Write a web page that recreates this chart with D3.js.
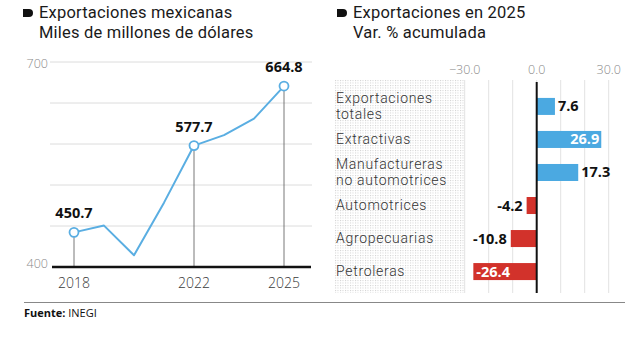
<!DOCTYPE html>
<html>
<head>
<meta charset="utf-8">
<script src="https://cdn.jsdelivr.net/npm/d3@7"></script>
<style>
  body { margin: 0; background: #fff; }
  svg { display: block; font-family: "Open Sans", sans-serif; }
  .title { font-family: Roboto, sans-serif; font-size: 16.5px; fill: #1a1a1a; letter-spacing: 0.2px; }
  .tick-label { font-size: 12.5px; fill: #8a8a8a; font-weight: 300; }
  .year { font-size: 14px; fill: #3a3a3a; font-weight: 300; }
  .value { font-size: 14.5px; font-weight: 700; fill: #111; }
  .cat { font-family: Roboto, sans-serif; font-size: 14px; fill: #333; font-weight: 300; letter-spacing: 0.7px; }
  .source { font-size: 11px; fill: #111; }
</style>
</head>
<body>
<svg id="chart" width="630" height="342"></svg>
<script>
// Exportaciones mexicanas, miles de millones de dólares
var years = [2018, 2019, 2020, 2021, 2022, 2023, 2024, 2025];
var exports = [450.7, 460.6, 417.2, 494.2, 577.7, 593.0, 617.1, 664.8];
var labelledYears = [2018, 2022, 2025];
var yTicks = [400, 700];

// Variación % acumulada por sector en 2025
var sectors = [
  ['Exportaciones', 'totales'],
  ['Extractivas'],
  ['Manufactureras', 'no automotrices'],
  ['Automotrices'],
  ['Agropecuarias'],
  ['Petroleras']
];
var changes = [7.6, 26.9, 17.3, -4.2, -10.8, -26.4];
var xTicks = [-30, 0, 30];

var BLUE = '#4ba9e1';
var RED = '#d2322b';

var svg = d3.select('#chart');

var drawTitle = function(x, lines) {
  svg.append('path')
    .attr('d', 'M' + x + ',9 h6 a4,4 0 0 1 4,4 a4,4 0 0 1 -4,4 h-6 z')
    .attr('fill', '#111');
  svg.selectAll(null)
    .data(lines)
    .enter().append('text')
    .attr('class', 'title')
    .attr('x', x + 16)
    .attr('y', function(d, i) { return 18 + i * 19.5; })
    .text(function(d) { return d; });
};

// LEFT: line chart

drawTitle(23, ['Exportaciones mexicanas', 'Miles de millones de dólares']);

var x = d3.scaleLinear().domain([2018, 2025]).range([74, 284]);
var y = d3.scaleLinear().domain([400, 700]).range([267, 62]);

svg.append('g')
  .selectAll('line')
  .data(d3.range(460, 701, 60))
  .enter().append('line')
  .attr('x1', 50).attr('x2', 312)
  .attr('y1', function(d) { return y(d); })
  .attr('y2', function(d) { return y(d); })
  .attr('stroke', '#dcdcdc')
  .attr('stroke-width', 1);

svg.selectAll(null)
  .data(yTicks)
  .enter().append('text')
  .attr('class', 'tick-label')
  .attr('text-anchor', 'end')
  .attr('x', 48)
  .attr('y', function(d) { return y(d) + (d === 700 ? 6 : 1); })
  .text(function(d) { return d; });

var points = years.map(function(yr, i) { return { year: yr, value: exports[i] }; });
var marked = points.filter(function(p) { return labelledYears.indexOf(p.year) >= 0; });

// drop lines to the axis
svg.selectAll(null)
  .data(marked)
  .enter().append('line')
  .attr('x1', function(p) { return x(p.year); })
  .attr('x2', function(p) { return x(p.year); })
  .attr('y1', function(p) { return y(p.value); })
  .attr('y2', y(400))
  .attr('stroke', '#555')
  .attr('stroke-width', 0.8);

svg.append('line')
  .attr('x1', 52).attr('x2', 311)
  .attr('y1', y(400)).attr('y2', y(400))
  .attr('stroke', '#111')
  .attr('stroke-width', 2.5);

svg.append('path')
  .datum(points)
  .attr('fill', 'none')
  .attr('stroke', '#5aaee2')
  .attr('stroke-width', 2)
  .attr('stroke-linejoin', 'round')
  .attr('d', d3.line()
    .x(function(p) { return x(p.year); })
    .y(function(p) { return y(p.value); }));

svg.selectAll(null)
  .data(marked)
  .enter().append('circle')
  .attr('cx', function(p) { return x(p.year); })
  .attr('cy', function(p) { return y(p.value); })
  .attr('r', 4.5)
  .attr('fill', '#fff')
  .attr('stroke', '#5aaee2')
  .attr('stroke-width', 1.8);

svg.selectAll(null)
  .data(marked)
  .enter().append('text')
  .attr('class', 'value')
  .attr('text-anchor', 'middle')
  .attr('x', function(p) { return x(p.year); })
  .attr('y', function(p) { return y(p.value) - 14; })
  .text(function(p) { return p.value.toFixed(1); });

svg.selectAll(null)
  .data(labelledYears)
  .enter().append('text')
  .attr('class', 'year')
  .attr('text-anchor', 'middle')
  .attr('x', function(d) { return x(d); })
  .attr('y', 288)
  .text(function(d) { return d; });

// RIGHT: bar chart

drawTitle(337, ['Exportaciones en 2025', 'Var. % acumulada']);

var xb = d3.scaleLinear().domain([-30, 30]).range([464.7, 608.7]);
var yb = d3.scaleBand().domain(d3.range(sectors.length)).range([90, 288])
  .paddingInner(0.485).paddingOuter(0.24);

var defs = svg.append('defs');
defs.append('pattern')
  .attr('id', 'dots')
  .attr('width', 2.5).attr('height', 2.5)
  .attr('patternUnits', 'userSpaceOnUse')
  .append('rect')
  .attr('width', 1).attr('height', 1)
  .attr('fill', '#cfcfcf');

svg.append('rect')
  .attr('x', 335).attr('y', 80)
  .attr('width', xb(-30) - 335).attr('height', 213)
  .attr('fill', 'url(#dots)');

svg.append('g')
  .selectAll('line')
  .data(d3.range(-30, 31, 10))
  .enter().append('line')
  .attr('x1', function(d) { return xb(d); })
  .attr('x2', function(d) { return xb(d); })
  .attr('y1', 80).attr('y2', 293)
  .attr('stroke', '#e2e2e2')
  .attr('stroke-width', 1);

svg.selectAll(null)
  .data(xTicks)
  .enter().append('text')
  .attr('class', 'tick-label')
  .attr('text-anchor', 'middle')
  .attr('x', function(d) { return xb(d); })
  .attr('y', 74)
  .text(function(d) { return d3.format('.1f')(d); });

var rows = changes.map(function(v, i) { return { i: i, value: v, label: sectors[i] }; });

svg.selectAll(null)
  .data(rows)
  .enter().append('rect')
  .attr('x', function(r) { return xb(Math.min(0, r.value)); })
  .attr('width', function(r) { return Math.abs(xb(r.value) - xb(0)); })
  .attr('y', function(r) { return yb(r.i); })
  .attr('height', yb.bandwidth())
  .attr('fill', function(r) { return r.value >= 0 ? BLUE : RED; });

svg.append('line')
  .attr('x1', xb(0)).attr('x2', xb(0))
  .attr('y1', 82).attr('y2', 293)
  .attr('stroke', '#111')
  .attr('stroke-width', 2);

// big bars carry their value inside, small ones outside
var inside = function(r) { return Math.abs(r.value) > 20; };

svg.selectAll(null)
  .data(rows)
  .enter().append('text')
  .attr('class', 'value')
  .attr('x', function(r) {
    var end = xb(r.value);
    if (inside(r)) return r.value > 0 ? end - 2 : end + 3;
    return r.value > 0 ? end + 3 : end - 4;
  })
  .attr('y', function(r) { return yb(r.i) + yb.bandwidth() / 2 + 5; })
  .attr('text-anchor', function(r) {
    return (r.value > 0) === inside(r) ? 'end' : 'start';
  })
  .style('fill', function(r) { return inside(r) ? '#fff' : '#111'; })
  .text(function(r) { return r.value.toFixed(1); });

var catLabels = svg.selectAll(null)
  .data(rows)
  .enter().append('text')
  .attr('class', 'cat')
  .attr('x', 336)
  .attr('y', function(r) {
    var mid = yb(r.i) + yb.bandwidth() / 2;
    return mid + 4.5 - (r.label.length - 1) * 8.25;
  });

catLabels.selectAll('tspan')
  .data(function(r) { return r.label; })
  .enter().append('tspan')
  .attr('x', 336)
  .attr('dy', function(d, i) { return i ? 16.5 : 0; })
  .text(function(d) { return d; });

// footer
svg.append('line')
  .attr('x1', 24).attr('x2', 625)
  .attr('y1', 302.5).attr('y2', 302.5)
  .attr('stroke', '#888')
  .attr('stroke-width', 1);

var src = svg.append('text')
  .attr('class', 'source')
  .attr('x', 24)
  .attr('y', 317);
src.append('tspan').attr('font-weight', 700).text('Fuente:');
src.append('tspan').text(' INEGI');
</script>
</body>
</html>
